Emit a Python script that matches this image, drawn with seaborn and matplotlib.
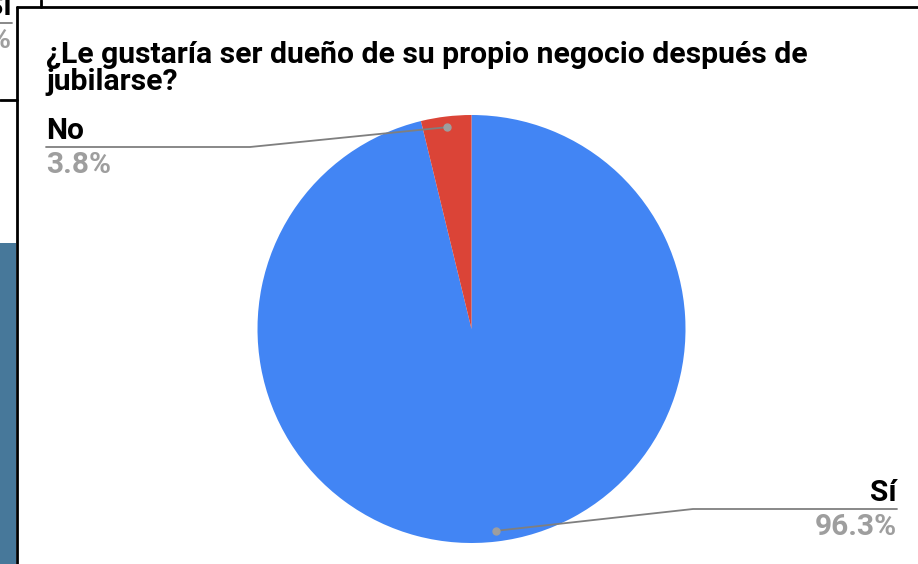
import numpy as np
import matplotlib
matplotlib.use("Agg")
import matplotlib.pyplot as plt
from matplotlib.lines import Line2D
from matplotlib.patches import Rectangle
import seaborn as sns

labels = ["Sí", "No"]
values = [96.3, 3.8]
pct_labels = ["96.3%", "3.8%"]
title_lines = ["¿Le gustaría ser dueño de su propio negocio después de", "jubilarse?"]

sns.set_theme(style="white")
plt.rcParams["font.family"] = ["Roboto", "DejaVu Sans"]

colors = ["#4285F4", "#DB4437"]
W, H = 918, 564

def px(x, y):
    # pixel position from the top-left corner -> figure fraction
    return x / W, 1 - y / H

fig = plt.figure(figsize=(W / 100, H / 100), dpi=100)
fig.patch.set_facecolor("white")

# pie placed so that its centre is at (471.5, 329) px with radius 214 px
cx, cy, r = 471.5, 329, 214
ax = fig.add_axes([(cx - r) / W, (H - cy - r) / H, 2 * r / W, 2 * r / H])
wedges, _ = ax.pie(values, colors=colors, startangle=90, counterclock=False,
                   wedgeprops=dict(linewidth=0))
ax.set_xlim(-1, 1)
ax.set_ylim(-1, 1)
ax.set_aspect("equal")
ax.axis("off")

to_fig = fig.transFigure.inverted()
line_col = "#7f7f7f"
grey_txt = "#9e9e9e"
lab_size = 21.5

# label layout: elbow and end of the leader lines, text side
layout = {
    "No": dict(elbow=(250, 147), end=(46, 147), ha="left"),
    "Sí": dict(elbow=(693, 509), end=(897, 509), ha="right"),
}

for w, lab, pct in zip(wedges, labels, pct_labels):
    mid = np.deg2rad((w.theta1 + w.theta2) / 2)
    dot = to_fig.transform(ax.transData.transform((0.95 * np.cos(mid), 0.95 * np.sin(mid))))
    lo = layout[lab]
    ex, ey = px(*lo["elbow"])
    nx, ny = px(*lo["end"])
    fig.add_artist(Line2D([dot[0], ex, nx], [dot[1], ey, ny], color=line_col, lw=1.3,
                          transform=fig.transFigure))
    fig.add_artist(Line2D([dot[0]], [dot[1]], marker="o", ms=5, color=grey_txt, lw=0,
                          transform=fig.transFigure))
    fig.text(nx, ny + 8 / H, lab, ha=lo["ha"], va="baseline", fontsize=lab_size,
             fontweight="bold", color="black")
    fig.text(nx, ny - 26 / H, pct, ha=lo["ha"], va="baseline", fontsize=lab_size,
             fontweight="bold", color=grey_txt)

# title, two lines
for line, base in zip(title_lines, [63, 90]):
    fig.text(*px(46, base), line, ha="left", va="baseline", fontsize=21.7,
             fontweight="bold", color="black")

# pieces of the neighbouring cards in the screenshot
fig.add_artist(Rectangle(px(0, 564), 16 / W, (564 - 243) / H, color="#47789a",
                         transform=fig.transFigure, lw=0))
border = dict(color="black", lw=2, transform=fig.transFigure)
fig.add_artist(Line2D([px(17, 7)[0], 1], [px(17, 7)[1], px(17, 7)[1]], **border))
fig.add_artist(Line2D([px(17, 7)[0], px(17, 564)[0]], [px(17, 7)[1], 0], **border))
fig.add_artist(Line2D([px(41, 0)[0], px(41, 7)[0]], [1, px(41, 7)[1]], **border))
fig.add_artist(Line2D([0, px(17, 100)[0]], [px(0, 100)[1], px(0, 100)[1]], **border))
fig.add_artist(Line2D([0, px(12, 23)[0]], [px(0, 23)[1], px(0, 23)[1]], color=line_col,
                      lw=1.3, transform=fig.transFigure))
fig.text(*px(12, 15), "Sí", ha="right", va="baseline", fontsize=lab_size, fontweight="bold",
         color="black")
fig.text(*px(12, 48), "6.3%", ha="right", va="baseline", fontsize=lab_size,
         fontweight="bold", color=grey_txt)

fig.savefig("out.png", dpi=100)
